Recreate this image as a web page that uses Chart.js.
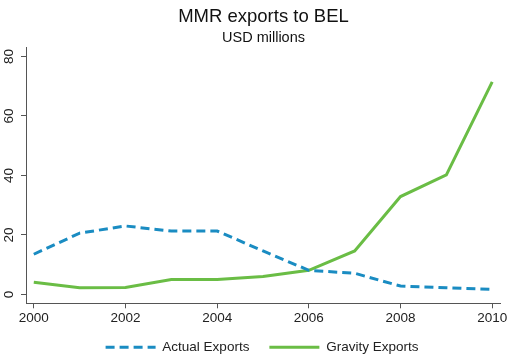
<!DOCTYPE html>
<html>
<head>
<meta charset="utf-8">
<script src="https://cdn.jsdelivr.net/npm/chart.js@4"></script>
<style>
  body { margin: 0; background: #fff; }
  #wrap { width: 516px; height: 360px; }
</style>
</head>
<body>
<div id="wrap"><canvas id="myChart" width="516" height="360"></canvas></div>
<script>
// date
var ani = [2000, 2001, 2002, 2003, 2004, 2005, 2006, 2007, 2008, 2009, 2010];
var actual_exports = [13.5, 20.6, 23.0, 21.3, 21.3, 14.6, 8.1, 7.1, 2.8, 2.2, 1.7];
var gravity_exports = [4.1, 2.2, 2.3, 5.0, 5.0, 6.0, 8.1, 14.6, 32.9, 40.2, 71.5];
var x_ticks = [2000, 2002, 2004, 2006, 2008, 2010];
var y_ticks = [0, 20, 40, 60, 80];

var font = 'Liberation Sans, Arial, Helvetica, sans-serif';
var axisColor = '#555';

function puncte(valori) {
    return ani.map((an, i) => ({ x: an, y: valori[i] }));
}

// muta putin legenda si titlurile (centrate pe zona graficului)
var mutaCutii = {
    id: 'mutaCutii',
    afterLayout: chart => {
        var l = chart.legend;
        l.left += 12; l.right += 12;
        l.top -= 8; l.bottom -= 8;
        chart.boxes.forEach(b => {
            if (b.position === 'top' && b.options && b.options.text) {
                b.left += 13.5; b.right += 13.5;
            }
        });
    }
};

var ctx = document.getElementById('myChart').getContext('2d');
new Chart(ctx, {
    type: 'line',
    data: {
        datasets: [{
            label: 'Actual Exports',
            data: puncte(actual_exports),
            borderColor: '#1a8cc2',
            backgroundColor: '#1a8cc2',
            borderWidth: 3,
            borderDash: [9, 5],
            pointRadius: 0,
            tension: 0
        }, {
            label: 'Gravity Exports',
            data: puncte(gravity_exports),
            borderColor: '#6abd45',
            backgroundColor: '#6abd45',
            borderWidth: 3,
            pointRadius: 0,
            tension: 0
        }]
    },
    plugins: [mutaCutii],
    options: {
        responsive: false,
        animation: false,
        layout: { padding: { left: 0, right: 16, top: 2, bottom: -12 } },
        plugins: {
            title: {
                display: true,
                text: 'MMR exports to BEL',
                color: '#111',
                font: { family: font, size: 18.5, weight: 'normal' },
                padding: { top: 4, bottom: 1 }
            },
            subtitle: {
                display: true,
                text: 'USD millions',
                color: '#111',
                font: { family: font, size: 14.5, weight: 'normal' },
                padding: { bottom: 1 }
            },
            legend: {
                position: 'bottom',
                labels: {
                    usePointStyle: true,
                    pointStyle: 'line',
                    pointStyleWidth: 50,
                    boxHeight: 13,
                    color: '#222',
                    font: { family: font, size: 13.5 },
                    padding: 20,
                    // linia punctata si in legenda
                    generateLabels: chart => {
                        var items = Chart.defaults.plugins.legend.labels.generateLabels(chart);
                        items.forEach(item => {
                            var ds = chart.data.datasets[item.datasetIndex];
                            item.lineDash = ds.borderDash || [];
                            item.lineWidth = 3;
                            item.strokeStyle = ds.borderColor;
                        });
                        return items;
                    }
                }
            },
            tooltip: { enabled: false }
        },
        scales: {
            x: {
                type: 'linear',
                min: 1999.83,
                max: 2010.17,
                afterBuildTicks: axis => { axis.ticks = x_ticks.map(v => ({ value: v })); },
                grid: { drawOnChartArea: false, tickLength: 5, color: axisColor },
                border: { color: axisColor, width: 1 },
                ticks: {
                    color: '#222',
                    font: { family: font, size: 13.5 },
                    maxRotation: 0,
                    padding: 2,
                    callback: v => String(v)
                }
            },
            y: {
                min: -3,
                max: 83,
                afterBuildTicks: axis => { axis.ticks = y_ticks.map(v => ({ value: v })); },
                afterFit: axis => { axis.width = 26; },
                grid: { drawOnChartArea: false, tickLength: 5, color: axisColor },
                border: { color: axisColor, width: 1 },
                ticks: {
                    color: '#222',
                    font: { family: font, size: 13.5 },
                    minRotation: 90,
                    maxRotation: 90,
                    crossAlign: 'center',
                    padding: 4
                }
            }
        }
    }
});
</script>
</body>
</html>
